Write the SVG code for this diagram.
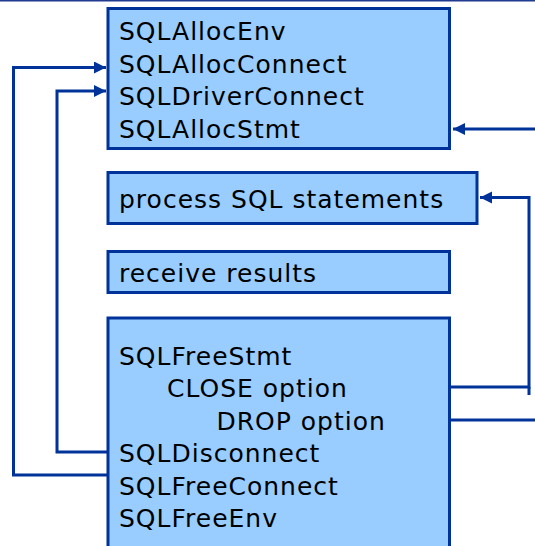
<svg xmlns="http://www.w3.org/2000/svg" width="535" height="546" viewBox="0 0 535 546">
  <style>
    .box { fill: #99ccff; stroke: #003399; stroke-width: 3; }
    .lbl { font-family: "DejaVu Sans", Verdana, sans-serif; font-size: 25px; letter-spacing: 1px; fill: #000; }
    .wire { fill: none; stroke: #003399; stroke-width: 3; }
  </style>
  <defs>
    <marker id="head" markerUnits="userSpaceOnUse" markerWidth="13" markerHeight="13" refX="12" refY="6" orient="auto">
      <path d="M0,0 L12,6 L0,12 z" fill="#003399"/>
    </marker>
  </defs>

  <rect x="0" y="0" width="535" height="546" fill="#fff"/>
  <line x1="0" y1="0.5" x2="535" y2="0.5" stroke="#1f3a8f" stroke-width="2"/>

  <g id="connectors">
    <path class="wire" d="M108,475 H13.5 V67.5 H106" marker-end="url(#head)"/>
    <path class="wire" d="M108,452 H57 V91 H106" marker-end="url(#head)"/>
    <path class="wire" d="M449.5,387 H529 V197.5 H480" marker-end="url(#head)"/>
    <path class="wire" d="M529,387 V395"/>
    <path class="wire" d="M449.5,420 H535"/>
    <path class="wire" d="M535,129 H453" marker-end="url(#head)"/>
  </g>

  <g id="alloc">
    <rect class="box" x="108" y="8.5" width="341.5" height="140"/>
    <text class="lbl" x="119" y="40">SQLAllocEnv</text>
    <text class="lbl" x="119" y="72.5">SQLAllocConnect</text>
    <text class="lbl" x="119" y="105">SQLDriverConnect</text>
    <text class="lbl" x="119" y="137.5">SQLAllocStmt</text>
  </g>

  <g id="process">
    <rect class="box" x="108" y="172.5" width="369" height="51"/>
    <text class="lbl" x="119" y="208">process SQL statements</text>
  </g>

  <g id="receive">
    <rect class="box" x="108" y="251.5" width="341.5" height="41"/>
    <text class="lbl" x="119" y="282">receive results</text>
  </g>

  <g id="free">
    <rect class="box" x="108" y="318" width="341.5" height="240"/>
    <text class="lbl" x="119" y="364.5">SQLFreeStmt</text>
    <text class="lbl" x="167" y="397">CLOSE option</text>
    <text class="lbl" x="216.5" y="429.5">DROP option</text>
    <text class="lbl" x="119" y="462">SQLDisconnect</text>
    <text class="lbl" x="119" y="494.5">SQLFreeConnect</text>
    <text class="lbl" x="119" y="527">SQLFreeEnv</text>
  </g>
</svg>
